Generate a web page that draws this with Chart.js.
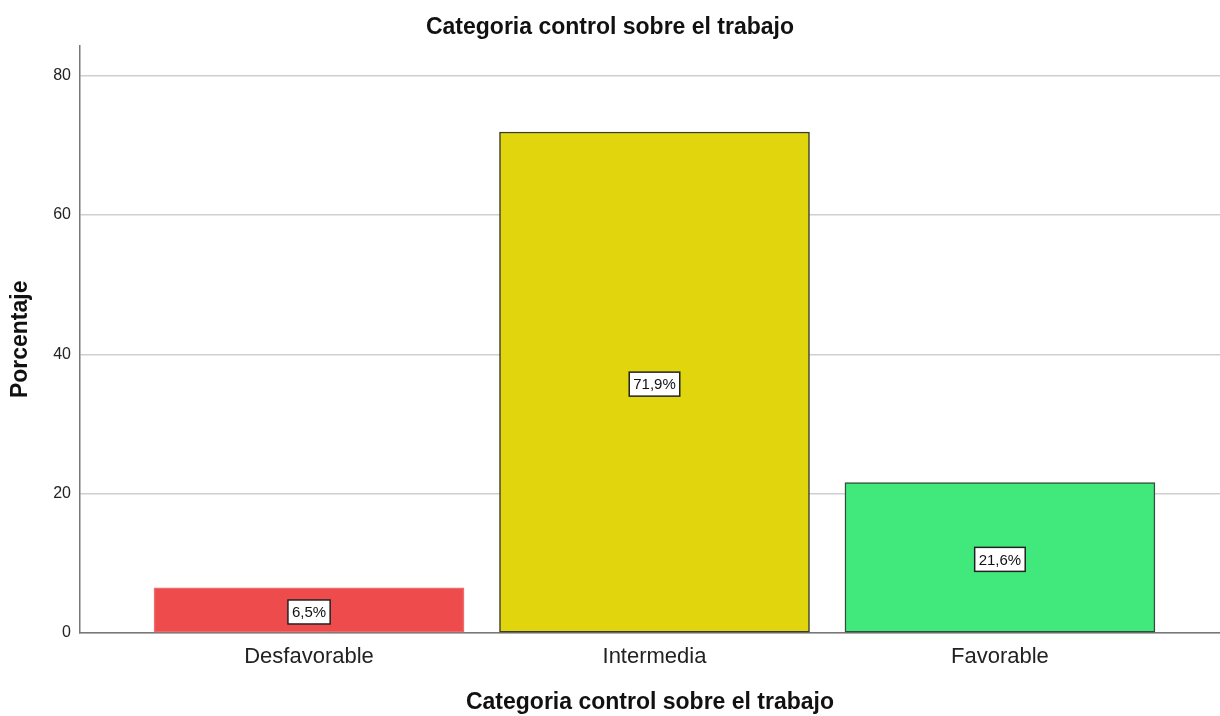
<!DOCTYPE html>
<html>
<head>
<meta charset="utf-8">
<script src="https://cdn.jsdelivr.net/npm/chart.js@4"></script>
<style>
  html, body { margin: 0; padding: 0; background: #fff; }
  #wrap { width: 1220px; height: 716px; }
</style>
</head>
<body>
<div id="wrap"><canvas id="chart" width="1220" height="716"></canvas></div>
<script>
const categories = ["Desfavorable", "Intermedia", "Favorable"];
const percentages = [6.5, 71.9, 21.6];
const barColors = ["#ee4b4d", "#e1d60e", "#41e97c"];
const edgeColors = ["#ee6a6b", "#3a3a2a", "#2f4f3a"];
const yTicks = [0, 20, 40, 60, 80];

// white boxes with the percentage in the middle of each bar
const barLabels = {
  id: "barLabels",
  afterDatasetsDraw(chart) {
    const ctx = chart.ctx;
    const meta = chart.getDatasetMeta(0);
    ctx.save();
    ctx.font = "15px 'Liberation Sans', Arial, sans-serif";
    ctx.textAlign = "center";
    ctx.textBaseline = "middle";
    meta.data.forEach((bar, i) => {
      const txt = percentages[i].toFixed(1).replace(".", ",") + "%";
      const cy = (bar.y + bar.base) / 2 + 2;
      const w = ctx.measureText(txt).width + 8;
      const h = 24;
      ctx.fillStyle = "#fff";
      ctx.fillRect(bar.x - w / 2, cy - h / 2, w, h);
      ctx.strokeStyle = "#222";
      ctx.lineWidth = 1.5;
      ctx.strokeRect(bar.x - w / 2, cy - h / 2, w, h);
      ctx.fillStyle = "#111";
      ctx.fillText(txt, bar.x, cy + 1);
    });
    ctx.restore();
  }
};

new Chart(document.getElementById("chart").getContext("2d"), {
  type: "bar",
  data: {
    datasets: [{
      data: percentages.map((v, i) => ({ x: i + 1, y: v })),
      backgroundColor: barColors,
      borderColor: edgeColors,
      borderWidth: 1.5,
      borderSkipped: false,
      barThickness: 310
    }]
  },
  options: {
    responsive: false,
    animation: false,
    layout: { padding: { left: 0, right: 0, top: 0, bottom: 0 } },
    plugins: {
      legend: { display: false },
      tooltip: { enabled: false },
      title: {
        display: true,
        text: "Categoria control sobre el trabajo",
        color: "#111",
        font: { family: "'Liberation Sans', Arial, sans-serif", size: 23, weight: "bold" },
        padding: { top: 14, bottom: 4 }
      }
    },
    scales: {
      x: {
        type: "linear",
        offset: false,
        min: 0.337,
        max: 3.637,
        afterBuildTicks: s => { s.ticks = categories.map((c, i) => ({ value: i + 1 })); },
        afterFit: s => { s.height = 83; },
        grid: { display: false, drawTicks: false },
        border: { display: true, color: "#777", width: 1.5 },
        ticks: {
          padding: 11,
          color: "#222",
          font: { family: "'Liberation Sans', Arial, sans-serif", size: 22 },
          callback: v => categories[v - 1]
        },
        title: {
          display: true,
          text: "Categoria control sobre el trabajo",
          color: "#111",
          font: { family: "'Liberation Sans', Arial, sans-serif", size: 23, weight: "bold" },
          padding: { top: 14, bottom: 0 }
        }
      },
      y: {
        min: 0,
        max: 84.3,
        afterBuildTicks: s => { s.ticks = yTicks.map(v => ({ value: v })); },
        afterFit: s => { s.width = 80; },
        grid: { color: "#cfcfcf", lineWidth: 1.5, drawTicks: false },
        border: { display: true, color: "#777", width: 1.5 },
        ticks: {
          padding: 9,
          color: "#222",
          font: { family: "'Liberation Sans', Arial, sans-serif", size: 16 }
        },
        title: {
          display: true,
          text: "Porcentaje",
          color: "#111",
          font: { family: "'Liberation Sans', Arial, sans-serif", size: 23, weight: "bold" },
          padding: { top: 7, bottom: 0 }
        }
      }
    }
  },
  plugins: [barLabels]
});
</script>
</body>
</html>
